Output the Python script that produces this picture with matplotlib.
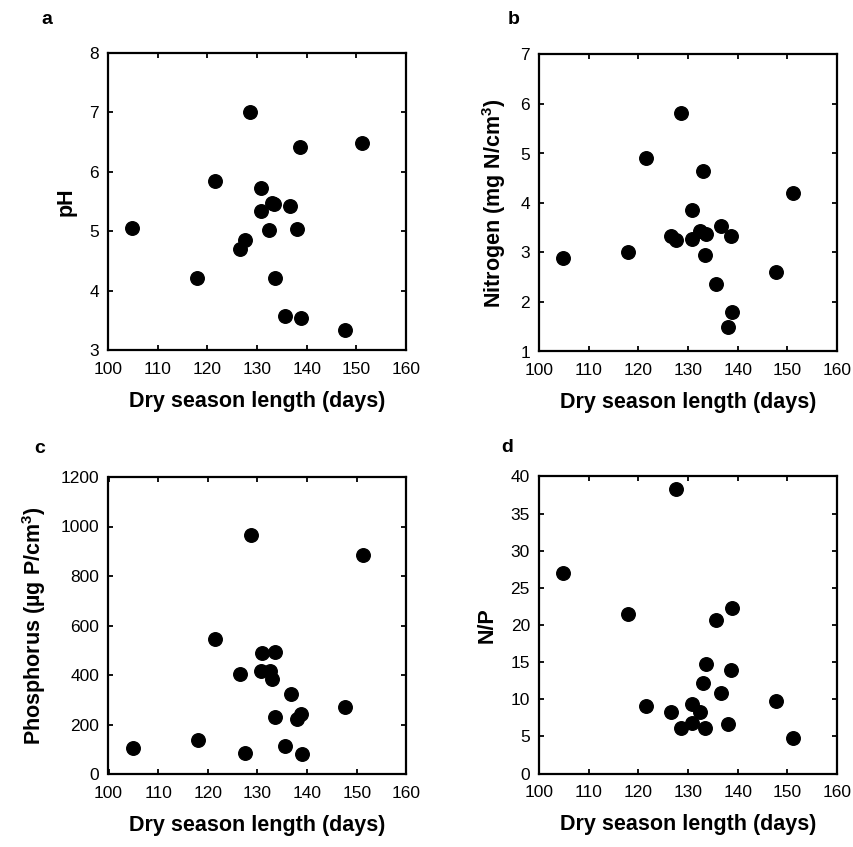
import matplotlib
matplotlib.use("Agg")
import matplotlib.pyplot as plt

plt.rcParams['font.family'] = ['Liberation Sans', 'DejaVu Sans']
plt.rcParams['mathtext.fontset'] = 'custom'
plt.rcParams['mathtext.rm'] = 'Liberation Sans'
plt.rcParams['mathtext.bf'] = 'Liberation Sans:bold'

dry_season = [104.9, 118.0, 121.5, 126.5, 127.5, 128.6, 130.8, 130.9, 132.5, 133.0,
              133.5, 133.6, 135.6, 136.7, 138.0, 138.7, 138.9, 147.7, 151.2]
ph = [5.06, 4.21, 5.84, 4.70, 4.86, 7.00, 5.72, 5.34, 5.02, 5.47,
      5.46, 4.21, 3.58, 5.43, 5.03, 6.42, 3.54, 3.33, 6.49]
nitrogen = [2.88, 3.00, 4.90, 3.34, 3.26, 5.81, 3.85, 3.27, 3.43, 4.65,
            2.95, 3.38, 2.36, 3.54, 1.49, 3.34, 1.80, 2.60, 4.21]
phosphorus = [107, 138, 544, 405, 86, 965, 415, 489, 415, 383,
              493, 230, 114, 324, 223, 242, 82, 269, 884]
np_ratio = [27.0, 21.5, 9.04, 8.28, 38.3, 6.13, 9.31, 6.76, 8.28, 12.2,
            6.13, 14.8, 20.7, 10.9, 6.62, 13.9, 22.3, 9.75, 4.79]

x_ticks = [100, 110, 120, 130, 140, 150, 160]
panels = [
    ("a", ph, "pH", (3, 8), [3, 4, 5, 6, 7, 8]),
    ("b", nitrogen, r"Nitrogen (mg N/cm$^{\mathbf{3}}$)", (1, 7), [1, 2, 3, 4, 5, 6, 7]),
    ("c", phosphorus, r"Phosphorus (µg P/cm$^{\mathbf{3}}$)", (0, 1200), [0, 200, 400, 600, 800, 1000, 1200]),
    ("d", np_ratio, "N/P", (0, 40), [0, 5, 10, 15, 20, 25, 30, 35, 40]),
]
positions = [
    (108 / 854, 1 - 350 / 847),
    (539 / 854, 1 - 351.5 / 847),
    (108.5 / 854, 1 - 774 / 847),
    (539 / 854, 1 - 773.5 / 847),
]
W, H = 298 / 854, 297 / 847
letter_pos = [(47, 20), (514, 20), (40, 448), (507, 447)]

fig = plt.figure(figsize=(8.54, 8.47), dpi=100)
for (letter, yvals, ylabel, ylim, yticks), (l, b), (lx, ly) in zip(panels, positions, letter_pos):
    ax = fig.add_axes([l, b, W, H])
    ax.scatter(dry_season, yvals, s=95, color='black', zorder=3, clip_on=False)
    ax.set_xlim(100, 160)
    ax.set_ylim(*ylim)
    ax.set_xticks(x_ticks)
    ax.set_yticks(yticks)
    for sp in ax.spines.values():
        sp.set_linewidth(1.6)
    ax.tick_params(direction='in', length=3.5, width=1.3, top=True, right=True,
                   labelsize=12.5)
    ax.tick_params(axis='x', pad=8.5)
    ax.tick_params(axis='y', pad=6.5)
    ax.set_xlabel("Dry season length (days)", fontsize=15.5, fontweight='bold', labelpad=10)
    ax.set_ylabel(ylabel, fontsize=15.5, fontweight='bold', labelpad=9)
    fig.text(lx / 854, 1 - ly / 847, letter, fontsize=14, fontweight='bold',
             ha='center', va='center')

fig.savefig("out.png", dpi=100)
